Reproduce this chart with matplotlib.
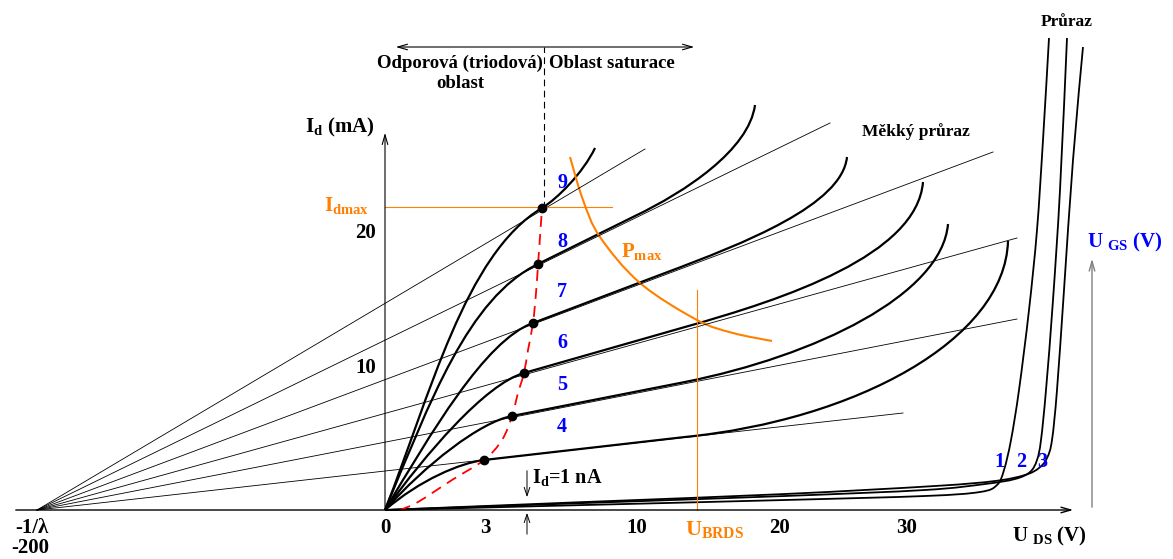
import numpy as np
import matplotlib
matplotlib.use("Agg")
import matplotlib.pyplot as plt
from matplotlib.path import Path
from matplotlib.patches import PathPatch

plt.rcParams['font.family'] = ['Liberation Serif', 'DejaVu Serif']
plt.rcParams['font.weight'] = 'bold'
plt.rcParams['mathtext.fontset'] = 'custom'
plt.rcParams['mathtext.rm'] = 'Liberation Serif:bold'
plt.rcParams['mathtext.it'] = 'Liberation Serif:bold'
plt.rcParams['mathtext.bf'] = 'Liberation Serif:bold'
plt.rcParams['mathtext.default'] = 'rm'

# schematic units: x ~ U_DS, y ~ I_d (origin at U_DS=0, I_d=0)
ugs_labels = ['4', '5', '6', '7', '8', '9']
ugs_label_y = [83, 125, 167, 218, 268, 327]

# saturation points (knees) for U_GS = 4..9
knee_x = [99, 127, 139, 148, 153, 157]
knee_y = [50, 94, 137, 187, 246, 302]

# rise from the origin to the knee: bezier control points
rise_c1 = [(35, 30), (40, 45), (40, 55), (45, 75), (45, 108), (45, 114)]
rise_c2 = [(75, 47), (95, 88), (100, 126), (100, 170), (83, 212), (80, 256)]

# where each curve leaves its Early line
depart_x = [300, 300, 300, 280, 250, 157]
depart_y = [73, 128, 183, 237, 294, 302]

# soft breakdown: bezier control points and curve end
bd_c1 = [(470, 90), (430, 154), (400, 211), (360, 267), (300, 318), (172, 311)]
bd_c2 = [(620, 170), (557, 215), (532, 255), (457, 305), (364, 360), (198, 337)]
end_x = [623, 563, 538, 462, 370, 210]
end_y = [269, 286, 328, 353, 405, 362]

# Early lines, all from -1/lambda
early_x0 = -348
early_end_x = [518, 632, 632, 608, 445, 260]
early_end_y = [97, 191, 272, 358, 387, 361]

# leakage / hard breakdown curves for U_GS = 1, 2, 3
leak_pts = {
    '1': [(0, 0), (200, 5), (400, 10), (540, 14), (595, 18), (612, 25), (619, 40),
          (626, 70), (634, 120), (644, 200), (652, 280), (658, 370), (664, 472)],
    '2': [(0, 0), (200, 7), (400, 14), (540, 20), (600, 26), (630, 31), (645, 38),
          (652, 50), (656, 70), (661, 120), (668, 210), (675, 320), (682, 472)],
    '3': [(0, 0), (200, 8), (400, 16), (550, 24), (610, 29), (640, 35), (654, 42),
          (662, 52), (667, 70), (672, 120), (679, 220), (688, 350), (698, 463)],
}
leak_label_x = [614, 636, 657]

# saturation boundary and limits
sat_pts = [(15, 0), (33, 8), (67, 30), (99, 50), (117, 70), (127, 94), (133, 117), (139, 137),
           (143, 160), (148, 187), (151, 217), (153, 245), (155, 273), (157, 302)]
pmax_pts = [(185, 353), (198, 310), (215, 273), (255, 227), (312, 190), (348, 177), (387, 169)]
idmax_y = 303
ubrds_x = 312

x_ticks = ['0', '3', '10', '20', '30']
x_tick_pos = [0, 100, 252, 395, 522]
y_ticks = ['10', '20']
y_tick_pos = [142, 277]

orange = '#ff8000'
blue = '#0000ff'


def smooth_path(pts):
    """Catmull-Rom through the read points, handed to matplotlib as cubic Beziers."""
    P = np.array(pts, dtype=float)
    n = len(P)
    verts = [P[0]]
    codes = [Path.MOVETO]
    for i in range(n - 1):
        p0 = P[i - 1] if i > 0 else P[i]
        p1, p2 = P[i], P[i + 1]
        p3 = P[i + 2] if i + 2 < n else P[i + 1]
        verts += [p1 + (p2 - p0) / 6, p2 - (p3 - p1) / 6, p2]
        codes += [Path.CURVE4] * 3
    return Path(verts, codes)


fig = plt.figure(figsize=(11.73, 5.59), dpi=100)
ax = fig.add_axes([0, 0, 1, 1])
ax.set_xlim(-385, 788)
ax.set_ylim(-49, 510)
ax.axis('off')

# axes
ax.annotate('', xy=(691, 0), xytext=(-372, 0),
            arrowprops=dict(arrowstyle='->,head_length=0.7,head_width=0.2', lw=1.0, color='black'))
ax.annotate('', xy=(0, 380), xytext=(0, 0),
            arrowprops=dict(arrowstyle='->,head_length=0.7,head_width=0.2', lw=0.8, color='black'))
ax.annotate('', xy=(707, 254), xytext=(707, 0),
            arrowprops=dict(arrowstyle='->,head_length=0.7,head_width=0.2', lw=1.0, color='#808080'))

# Early lines
for ex, ey in zip(early_end_x, early_end_y):
    ax.plot([early_x0, ex], [0, ey], color='black', lw=0.6)

# characteristics U_GS = 4..9
for i in range(len(ugs_labels)):
    verts = [(0, 0), rise_c1[i], rise_c2[i], (knee_x[i], knee_y[i]),
             (depart_x[i], depart_y[i]), bd_c1[i], bd_c2[i], (end_x[i], end_y[i])]
    codes = [Path.MOVETO] + [Path.CURVE4] * 3 + [Path.LINETO] + [Path.CURVE4] * 3
    ax.add_patch(PathPatch(Path(verts, codes), fill=False, lw=1.6, ec='black'))

for k in leak_pts:
    ax.add_patch(PathPatch(smooth_path(leak_pts[k]), fill=False, lw=1.3, ec='black'))

# limits
ax.add_patch(PathPatch(smooth_path(sat_pts), fill=False, lw=1.3, ec='red', ls=(0, (6, 4))))
ax.add_patch(PathPatch(smooth_path(pmax_pts), fill=False, lw=1.5, ec=orange))
ax.plot([0, 227], [idmax_y, idmax_y], color=orange, lw=0.8)
ax.plot([ubrds_x, ubrds_x], [0, 220], color=orange, lw=0.8)
ax.plot(knee_x, knee_y, 'o', color='black', ms=6, zorder=5)

# region split
ax.plot([159, 159], [302, 463], color='black', lw=0.8, ls=(0, (6, 4)))
ax.annotate('', xy=(8, 463), xytext=(312, 463),
            arrowprops=dict(arrowstyle='<->,head_length=0.7,head_width=0.2', lw=0.8, color='black'))
ax.text(75, 447, 'Odporová (triodová)', ha='center', va='center', fontsize=13.5)
ax.text(75, 427, 'oblast', ha='center', va='center', fontsize=13.5)
ax.text(227, 447, 'Oblast saturace', ha='center', va='center', fontsize=13.5)

# I_d = 1 nA marker
ax.annotate('', xy=(142, 10), xytext=(142, 42),
            arrowprops=dict(arrowstyle='->,head_length=0.6,head_width=0.2', lw=0.7, color='black'))
ax.annotate('', xy=(142, 0), xytext=(142, -27),
            arrowprops=dict(arrowstyle='->,head_length=0.6,head_width=0.2', lw=0.7, color='black'))
ax.text(147, 32, 'I$_{d}$=1 nA', ha='left', va='center', fontsize=14.5)

# tick labels
for lab, xp in zip(x_ticks, x_tick_pos):
    ax.text(xp, -18, lab, ha='center', va='center', fontsize=15)
for lab, yp in zip(y_ticks, y_tick_pos):
    ax.text(-19, yp, lab, ha='center', va='center', fontsize=15)
ax.text(-353, -18, '-1/λ', ha='center', va='center', fontsize=15)
ax.text(-355, -38, '-200', ha='center', va='center', fontsize=15)

# axis titles
ax.text(-45, 383, 'I$_{d}$ (mA)', ha='center', va='center', fontsize=15)
ax.text(664, -26, 'U $_{DS}$ (V)', ha='center', va='center', fontsize=15)
ax.text(740, 268, 'U $_{GS}$ (V)', ha='center', va='center', fontsize=15, color=blue)

# orange annotations
ax.text(-38, 305, 'I$_{dmax}$', ha='center', va='center', fontsize=15, color=orange)
ax.text(257, 258, 'P$_{max}$', ha='center', va='center', fontsize=15, color=orange)
ax.text(330, -20, 'U$_{BRDS}$', ha='center', va='center', fontsize=16, color=orange)

# region names
ax.text(531, 378, 'Měkký průraz', ha='center', va='center', fontsize=12.5)
ax.text(682, 488, 'Průraz', ha='center', va='center', fontsize=12.5)

# U_GS labels
for lab, yp in zip(ugs_labels, ugs_label_y):
    ax.text(177, yp, lab, ha='center', va='center', fontsize=14.5, color=blue)
for lab, xp in zip(['1', '2', '3'], leak_label_x):
    ax.text(xp, 48, lab, ha='center', va='center', fontsize=14.5, color=blue)

fig.savefig('out.png', dpi=100)
